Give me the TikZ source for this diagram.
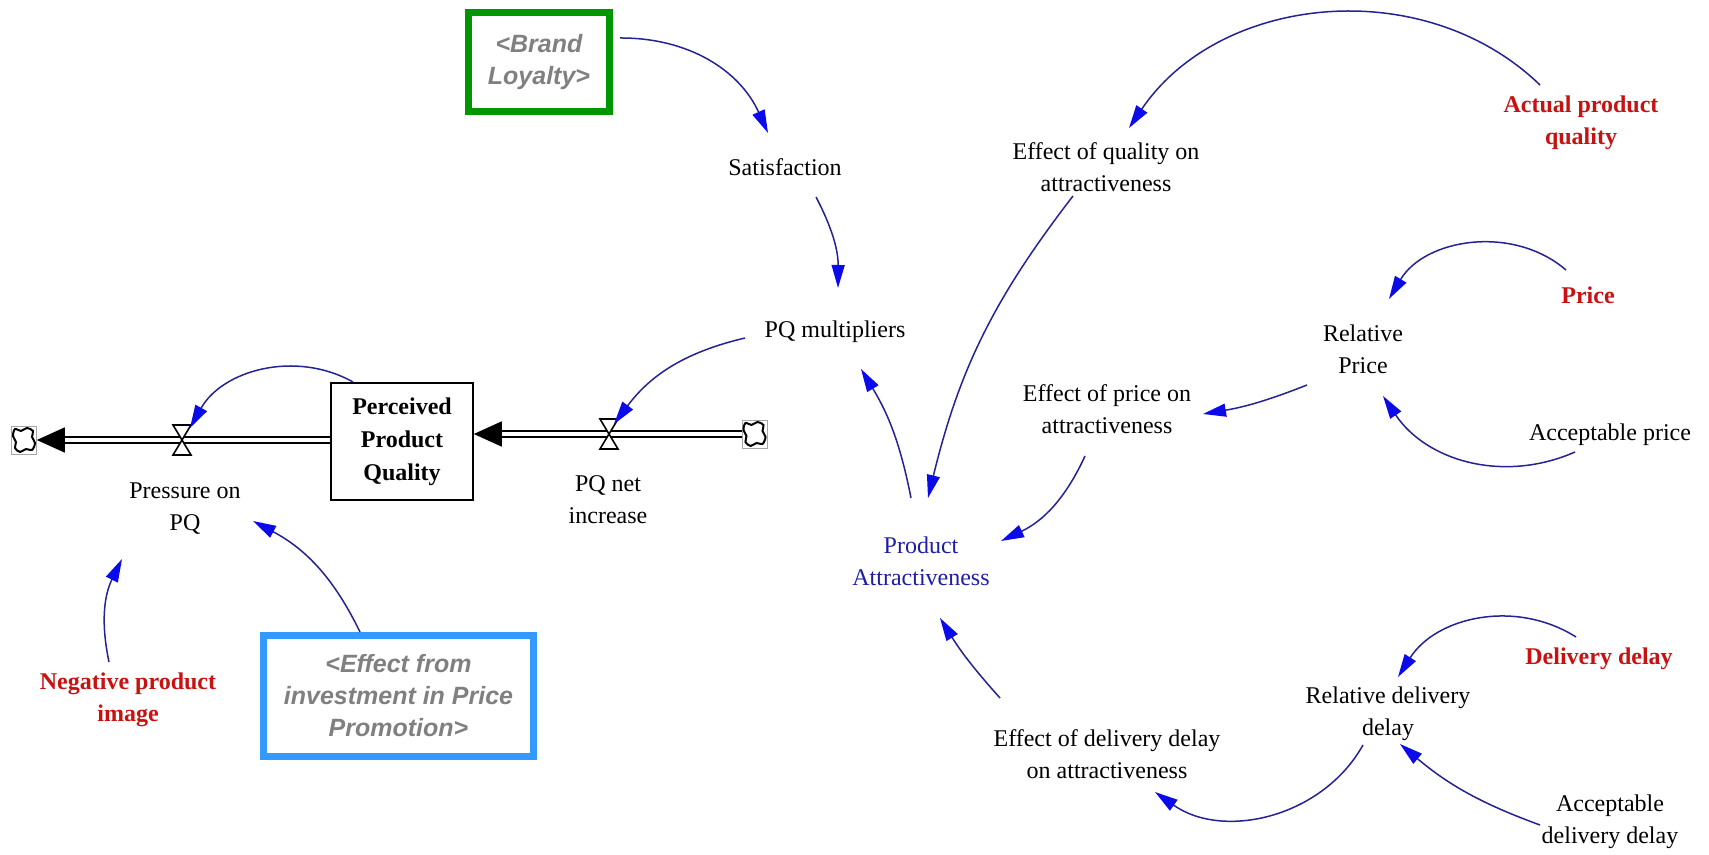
\documentclass[tikz,border=0pt]{standalone}
\usepackage{fontspec}
\setmainfont{Liberation Serif}
\setsansfont{Liberation Sans}
\usetikzlibrary{arrows.meta,calc}

\definecolor{linkcol}{RGB}{35,35,150}
\definecolor{tipcol}{RGB}{10,10,235}
\definecolor{varred}{RGB}{200,18,18}
\definecolor{attrblue}{RGB}{30,30,165}
\definecolor{shadowgray}{RGB}{128,128,128}
\definecolor{boxgreen}{RGB}{0,150,0}
\definecolor{boxblue}{RGB}{51,153,255}

\begin{document}
\begin{tikzpicture}[x=0.5pt,y=-0.5pt,
  var/.style={align=center, inner sep=0pt, font=\fontsize{12}{16}\selectfont},
  exo/.style={var, text=varred, font=\fontsize{12}{16}\selectfont\bfseries},
  shadowvar/.style={line width=3.5pt, align=center, inner sep=0pt, text=shadowgray,
    font=\fontsize{12.5}{16}\selectfont\sffamily\bfseries\itshape},
  stock/.style={draw, line width=0.8pt, minimum width=71pt, minimum height=58.5pt,
    align=center, inner sep=0pt, font=\fontsize{12}{16.5}\selectfont\bfseries},
  cloudnode/.style={draw=black!35, line width=0.3pt, minimum width=12.5pt,
    minimum height=14pt, inner sep=0pt},
  pipe/.style={draw=black, double=white, line width=0.8pt, double distance=2.2pt,
    -{Triangle[length=14pt,width=12.5pt,color=black]}},
  link/.style={draw=linkcol, line width=0.75pt,
    -{Triangle[length=11.5pt,width=6.5pt,color=tipcol]}},
  valve/.pic={\draw[line width=0.8pt, fill=white]
    (-9,-15) -- (9,-15) -- (-9,15) -- (9,15) -- cycle;},
  cloudblob/.pic={\draw[line width=1pt, fill=white] plot[smooth cycle, tension=0.55]
    coordinates {(-9,-11) (-3,-9) (3,-12) (9,-9) (8,-3) (11,3) (8,10) (2,9)
                 (-4,12) (-9,8) (-8,2) (-11,-4)};}
]
\fill[white] (0,0) rectangle (1709,855);
\useasboundingbox (0,0) rectangle (1709,855);

% stock, sources and sinks
\node[stock] (ppq) at (402,441.5) {Perceived\\Product\\Quality};
\node[cloudnode] (cloudL) at (24,440) {};
\node[cloudnode] (cloudR) at (754.5,434) {};
\pic at (cloudL) {cloudblob};
\pic at (cloudR) {cloudblob};

% flows
\draw[pipe] (ppq.west |- cloudL) -- (cloudL.east);
\draw[pipe] (cloudR.west) -- (ppq.east |- cloudR);
\coordinate (valveL) at (182,440);
\coordinate (valveR) at (609,434);
\pic at (valveL) {valve};
\pic at (valveR) {valve};

% shadow variables
\node[shadowvar, draw=boxgreen, minimum width=70.5pt, minimum height=49.5pt]
  (brand) at (539,62) {<Brand\\Loyalty>};
\node[shadowvar, draw=boxblue, minimum width=135pt, minimum height=60.5pt]
  (invest) at (398.5,696) {<Effect from\\investment in Price\\Promotion>};

% auxiliaries and constants
\node[var] (sat) at (785,167) {Satisfaction};
\node[var] (pqm) at (835,332) {PQ multipliers};
\node[var] (press) at (185,509) {Pressure on\\PQ};
\node[var] (pqnet) at (608,500) {PQ net\\increase};
\node[exo] (neg) at (128,700) {Negative product\\image};
\node[var, text=attrblue] (attr) at (921,561) {Product\\Attractiveness};
\node[var] (effq) at (1106,167) {Effect of quality on\\attractiveness};
\node[exo] (actual) at (1581,123) {Actual product\\quality};
\node[var] (effp) at (1107,409) {Effect of price on\\attractiveness};
\node[var] (relp) at (1363,349) {Relative\\Price};
\node[exo] (price) at (1588,295) {Price};
\node[var] (accp) at (1610,435) {Acceptable price};
\node[exo] (deldelay) at (1599,659) {Delivery delay};
\node[var] (rdd) at (1388,714) {Relative delivery\\delay};
\node[var] (add) at (1610,822) {Acceptable\\delivery delay};
\node[var] (effd) at (1107,754) {Effect of delivery delay\\on attractiveness};

% causal links
\draw[link] ($(brand)+(81,-24)$) to[bend left=33] ($(sat)+(-17,-34)$);
\draw[link] ($(sat)+(31,30)$) to[bend left=14] ($(pqm)+(3,-44)$);
\draw[link] ($(pqm)+(-90,6)$) to[bend right=20] ($(valveR)+(5,-10)$);
\draw[link] ($(ppq)+(-49,-59.5)$) to[bend right=45] ($(valveL)+(8,-12)$);
\draw[link] ($(invest)+(-38.5,-64)$) to[bend right=18] ($(press)+(68,12)$);
\draw[link] ($(neg)+(-19,-38)$) to[bend left=19] ($(press)+(-63,50)$);
\draw[link] ($(attr)+(-10,-63)$) to[bend right=10] ($(pqm)+(26,37)$);
\draw[link] ($(actual)+(-41,-38)$) to[bend right=50] ($(effq)+(23,-39)$);
\draw[link] ($(effq)+(-33,29)$) to[bend right=12] ($(attr)+(7,-63)$);
\draw[link] ($(effp)+(-22,47)$) to[bend left=20] ($(attr)+(80,-20)$);
\draw[link] ($(relp)+(-56,36)$) to[bend left=6] ($(effp)+(96,5)$);
\draw[link] ($(price)+(-22,-25)$) to[bend right=50] ($(relp)+(26,-50)$);
\draw[link] ($(accp)+(-35,17)$) to[bend left=40] ($(relp)+(20,47)$);
\draw[link] ($(deldelay)+(-23,-22)$) to[bend right=45] ($(rdd)+(10,-37)$);
\draw[link] ($(add)+(-70,3)$) to[bend left=10] ($(rdd)+(12,30)$);
\draw[link] ($(rdd)+(-25,31)$) to[bend left=48] ($(effd)+(48,38)$);
\draw[link] ($(effd)+(-107,-56)$) to[bend left=5] ($(attr)+(19,57)$);
\end{tikzpicture}
\end{document}
